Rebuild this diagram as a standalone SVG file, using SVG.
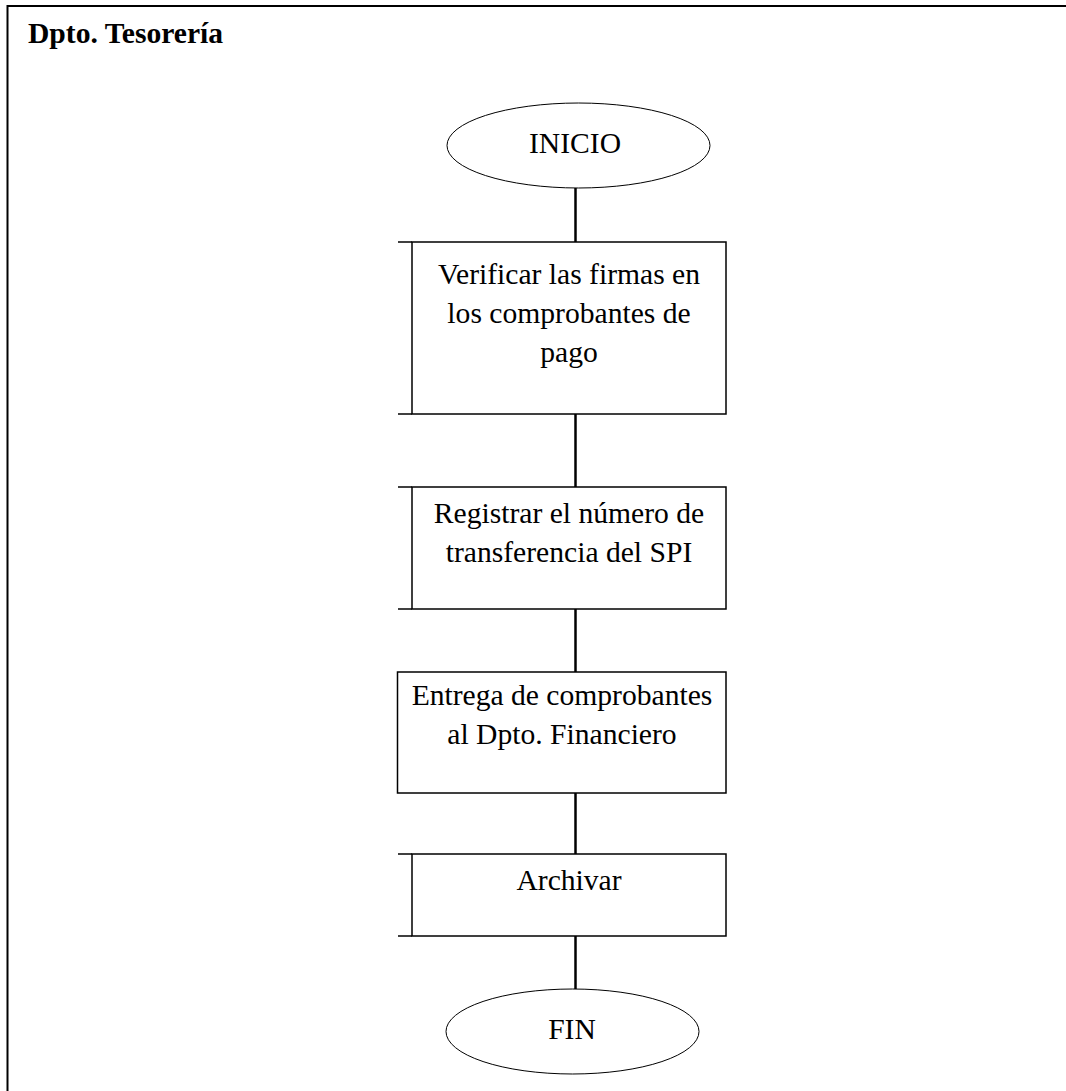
<svg xmlns="http://www.w3.org/2000/svg" width="1066" height="1091" viewBox="0 0 1066 1091">
  <style>
    .frame { fill: none; stroke: #000; stroke-width: 2; }
    .term { fill: #fff; stroke: #000; stroke-width: 1; }
    .proc { fill: #fff; stroke: #000; stroke-width: 1.5; }
    .link { stroke: #000; stroke-width: 2.5; fill: none; }
    text { font-family: "Liberation Serif", "Times New Roman", serif; font-size: 29.6px; fill: #000; }
    .lbl { text-anchor: middle; }
    .title { font-weight: bold; }
  </style>
  <rect width="1066" height="1091" fill="#fff"/>

  <!-- swimlane frame (open to the right and bottom) -->
  <g id="lane">
    <path class="frame" d="M7.5 1091 V6 H1066"/>
    <text class="title" x="28" y="43">Dpto. Tesorería</text>
  </g>

  <!-- connectors -->
  <g id="connectors">
    <line class="link" x1="575.5" y1="188" x2="575.5" y2="242"/>
    <line class="link" x1="575.5" y1="414" x2="575.5" y2="487"/>
    <line class="link" x1="575.5" y1="609" x2="575.5" y2="672"/>
    <line class="link" x1="575.5" y1="793" x2="575.5" y2="854"/>
    <line class="link" x1="575.5" y1="936" x2="575.5" y2="989"/>
  </g>

  <g id="inicio">
    <ellipse class="term" cx="578.5" cy="145.5" rx="131.5" ry="42.5"/>
    <text class="lbl" x="575" y="153">INICIO</text>
  </g>

  <g id="verificar">
    <rect class="proc" x="412" y="242" width="314" height="172"/>
    <line class="proc" x1="398" y1="242" x2="412" y2="242"/>
    <line class="proc" x1="398" y1="414" x2="412" y2="414"/>
    <text class="lbl" x="569" y="284">Verificar las firmas en</text>
    <text class="lbl" x="569" y="323">los comprobantes de</text>
    <text class="lbl" x="569" y="362">pago</text>
  </g>

  <g id="registrar">
    <rect class="proc" x="412" y="487" width="314" height="122"/>
    <line class="proc" x1="398" y1="487" x2="412" y2="487"/>
    <line class="proc" x1="398" y1="609" x2="412" y2="609"/>
    <text class="lbl" x="569" y="523">Registrar el número de</text>
    <text class="lbl" x="569" y="562">transferencia del SPI</text>
  </g>

  <g id="entrega">
    <rect class="proc" x="397.5" y="672" width="328.5" height="121"/>
    <text class="lbl" x="562" y="705">Entrega de comprobantes</text>
    <text class="lbl" x="562" y="744">al Dpto. Financiero</text>
  </g>

  <g id="archivar">
    <rect class="proc" x="412" y="854" width="314" height="82"/>
    <line class="proc" x1="398" y1="854" x2="412" y2="854"/>
    <line class="proc" x1="398" y1="936" x2="412" y2="936"/>
    <text class="lbl" x="569" y="890">Archivar</text>
  </g>

  <g id="fin">
    <ellipse class="term" cx="572.5" cy="1031.5" rx="126.5" ry="42.5"/>
    <text class="lbl" x="572" y="1039">FIN</text>
  </g>
</svg>
